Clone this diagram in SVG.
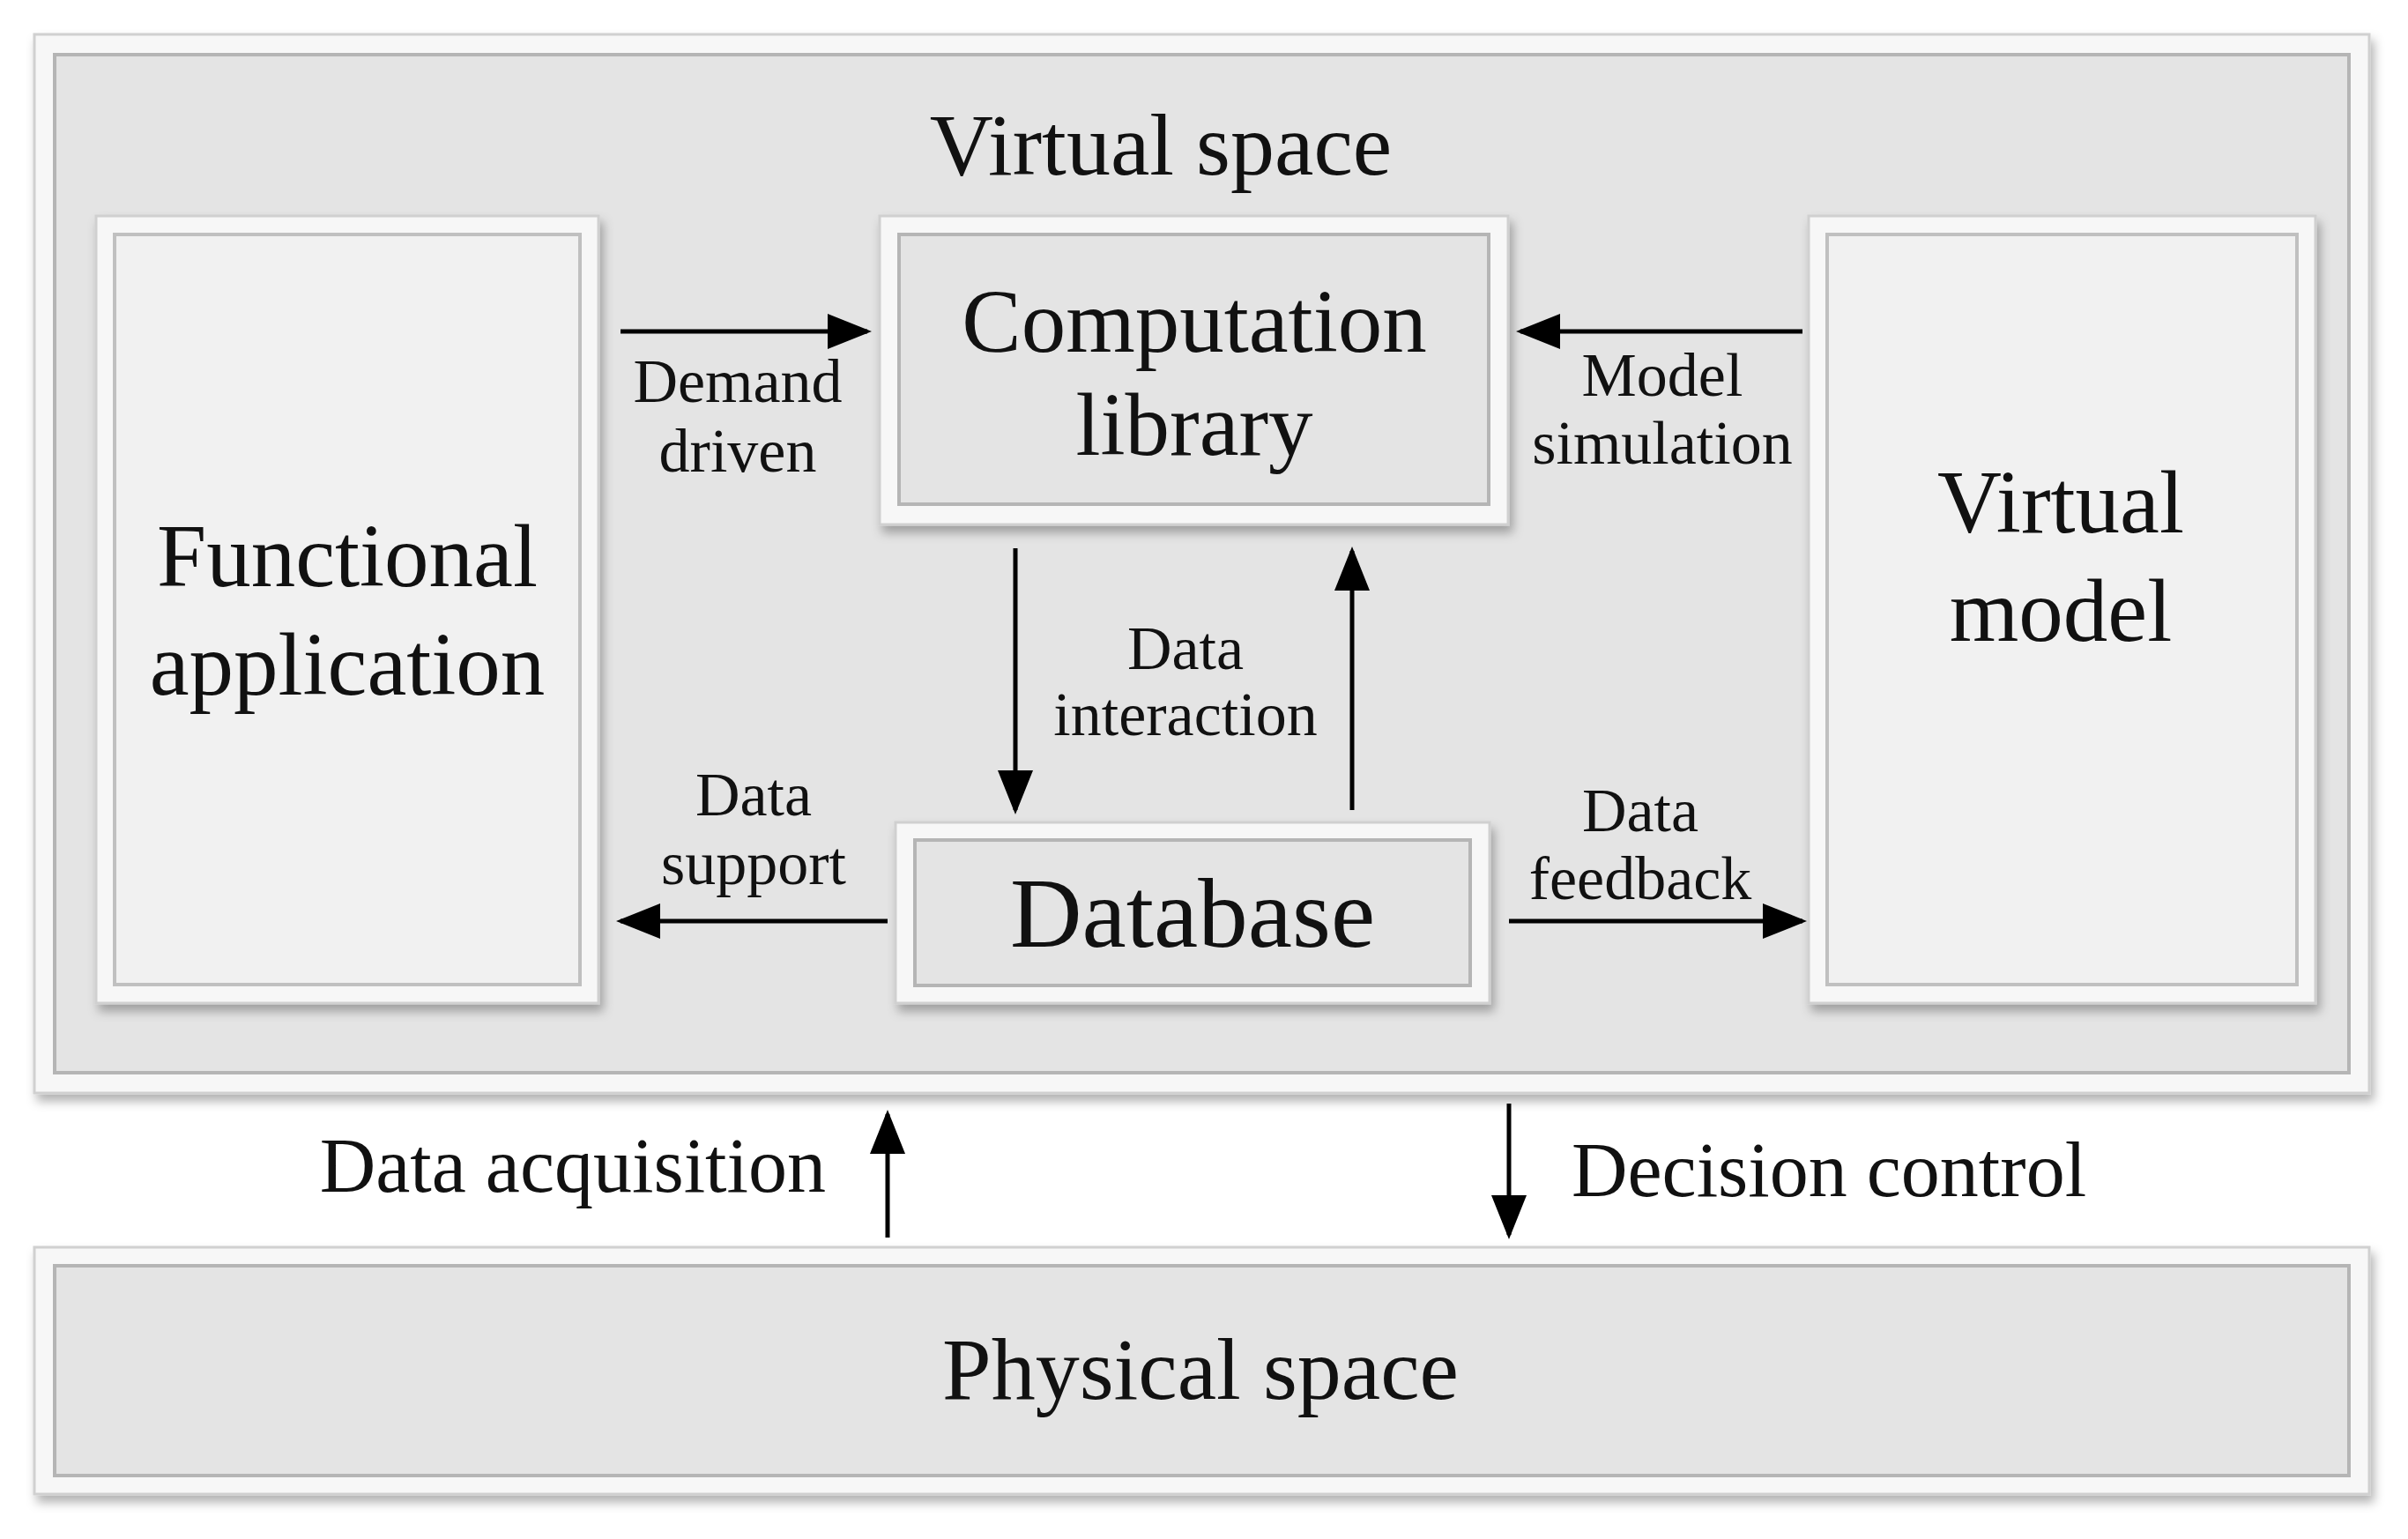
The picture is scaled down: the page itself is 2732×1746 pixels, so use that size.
<svg xmlns="http://www.w3.org/2000/svg" width="2732" height="1746" viewBox="0 0 2732 1746">
<style>
text{font-family:"Liberation Serif","Times New Roman",serif;fill:#111;text-anchor:middle}
.rim{fill:#f7f7f7;stroke:#d0d0d0;stroke-width:3}
.face{fill:#e4e4e4;stroke:#b5b5b5;stroke-width:4}
.wface{fill:#f1f1f1;stroke:#c0c0c0;stroke-width:4}
.ln{stroke:#000;stroke-width:5;fill:none;marker-end:url(#ah)}
.big{font-size:101px}
.mid{font-size:100px}
.sm{font-size:70px}
</style>
<defs>
<marker id="ah" markerWidth="10" markerHeight="8" refX="9" refY="4" orient="auto" markerUnits="strokeWidth"><path d="M0,0L10,4L0,8z" fill="#000"/></marker>
<filter id="sh" x="-5%" y="-5%" width="110%" height="115%"><feDropShadow dx="4" dy="8" stdDeviation="6" flood-color="#000" flood-opacity="0.3"/></filter>
</defs>
<rect width="2732" height="1746" fill="#fff"/>
<g id="virtual-space">
<rect class="rim" x="39" y="39" width="2649" height="1201" filter="url(#sh)"/>
<rect class="face" x="62" y="62" width="2603" height="1155"/>
<text class="mid" x="1317" y="198">Virtual space</text>
</g>
<g id="functional-application">
<rect class="rim" x="109" y="245" width="570" height="893" filter="url(#sh)"/>
<rect class="wface" x="130" y="266" width="528" height="851"/>
<text class="big" x="394" y="665">Functional</text>
<text class="big" x="394" y="788">application</text>
</g>
<g id="computation-library">
<rect class="rim" x="998" y="245" width="713" height="350" filter="url(#sh)"/>
<rect class="face" x="1020" y="266" width="669" height="306"/>
<text class="big" x="1355" y="399">Computation</text>
<text class="big" x="1355" y="516">library</text>
</g>
<g id="virtual-model">
<rect class="rim" x="2052" y="245" width="575" height="893" filter="url(#sh)"/>
<rect class="wface" x="2073" y="266" width="533" height="851"/>
<text class="big" x="2338" y="604">Virtual</text>
<text class="big" x="2338" y="727">model</text>
</g>
<g id="database">
<rect class="rim" x="1016" y="933" width="674" height="205" filter="url(#sh)"/>
<rect class="face" x="1038" y="953" width="630" height="165"/>
<text x="1353" y="1074" font-size="113">Database</text>
</g>
<g id="physical-space">
<rect class="rim" x="39" y="1415" width="2649" height="280" filter="url(#sh)"/>
<rect class="face" x="62" y="1436" width="2603" height="238"/>
<text class="mid" x="1362" y="1587">Physical space</text>
</g>
<g id="connectors">
<line class="ln" x1="704" y1="376" x2="984" y2="376"/>
<line class="ln" x1="2045" y1="376" x2="1725" y2="376"/>
<line class="ln" x1="1152" y1="622" x2="1152" y2="919"/>
<line class="ln" x1="1534" y1="919" x2="1534" y2="625"/>
<line class="ln" x1="1007" y1="1045" x2="704" y2="1045"/>
<line class="ln" x1="1712" y1="1045" x2="2045" y2="1045"/>
<line class="ln" x1="1007" y1="1404" x2="1007" y2="1264"/>
<line class="ln" x1="1712" y1="1252" x2="1712" y2="1401"/>
<text class="sm" x="837" y="456">Demand</text>
<text class="sm" x="837" y="535">driven</text>
<text class="sm" x="1886" y="449">Model</text>
<text class="sm" x="1886" y="526">simulation</text>
<text class="sm" x="1345" y="759">Data</text>
<text class="sm" x="1345" y="834">interaction</text>
<text class="sm" x="855" y="925">Data</text>
<text class="sm" x="855" y="1003">support</text>
<text class="sm" x="1861" y="943">Data</text>
<text class="sm" x="1861" y="1020">feedback</text>
<text x="937" y="1352" font-size="88" style="text-anchor:end">Data acquisition</text>
<text x="1783" y="1357" font-size="88" style="text-anchor:start">Decision control</text>
</g>
</svg>
